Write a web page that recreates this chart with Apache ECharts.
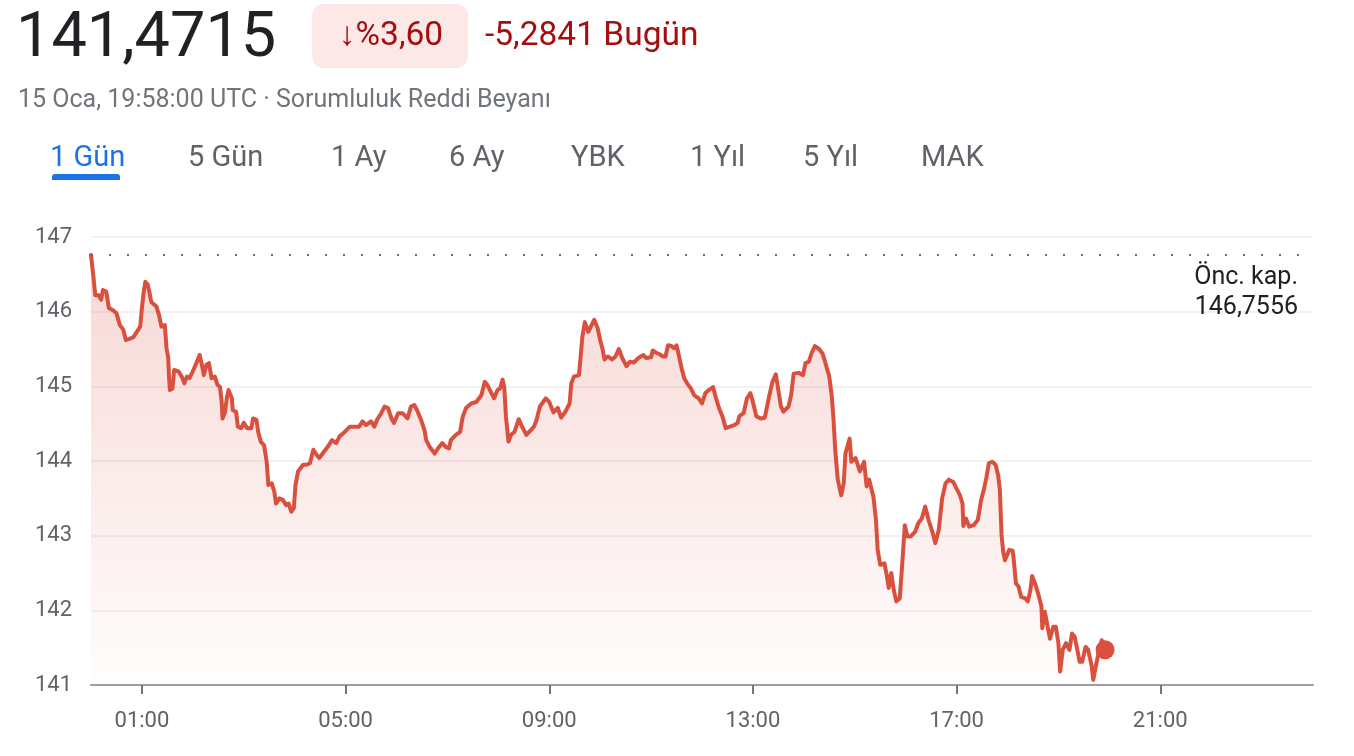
<!DOCTYPE html>
<html><head><meta charset="utf-8">
<script src="https://cdn.jsdelivr.net/npm/echarts@6/dist/echarts.min.js"></script>
<style>html,body{margin:0;padding:0;background:#fff}#c{width:1354px;height:756px}</style>
</head><body><div id="c"></div>
<script>
// minutes since 00:00 UTC
const times = [0,3,5,9,12,14,18,21,26,30,34,38,41,46,50,54,58,60,62,64,67,69,71,73,77,80,83,87,89,91,92,93,96,98,103,107,110,113,116,120,124,128,131,133,136,139,142,146,149,152,154,155,158,160,162,166,167,171,173,177,180,184,189,191,195,197,200,204,207,209,213,216,218,222,226,230,233,236,239,241,244,250,
254,258,262,266,269,275,279,284,289,293,299,305,311,316,320,324,330,334,337,342,346,350,354,357,362,367,373,377,381,385,389,393,395,399,405,409,414,418,422,424,430,435,438,442,448,454,460,464,467,471,475,479,482,485,487,489,492,495,499,504,508,513,518,522,525,529,536,540,545,550,554,559,564,566,569,575,577,579,582,586,589,593,597,600,603,605,609,614,618,622,626,631,635,640,645,651,654,660,662,666,670,674,677,680,684,687,690,693,696,699,703,707,711,716,720,724,728,733,736,740,744,748,753,758,762,764,769,773,777,780,784,789,794,799,803,807,810,813,816,822,825,828,834,839,842,846,849,853,858,862,865,867,870,873,875,877,880,884,887,889,894,896,901,906,911,914,917,922,925,927,930,935,938,940,943,946,949,953,956,959,962,966,971,975,979,983,987,992,995,999,1003,1007,1011,1016,1020,1024,1027,1028,1031,1035,1040,1045,1049,1052,1055,1058,1062,1066,1069,1071,1073,1075,1077,1082,1086,1087,1090,1093,1096,1101,1104,1107,1109,1113,1116,1120,1121,1124,1127,1130,1134,1137,1140,1142,1145,1149,1153,1156,1159,1162,1165,1168,1172,1175,1179,1181,1184,1188,1191,1193,1195];
const values = [146.76,146.45,146.22,146.22,146.16,146.29,146.27,146.05,146.02,145.98,145.82,145.76,145.62,145.64,145.66,145.73,145.80,146.05,146.25,146.40,146.36,146.25,146.13,146.11,146.07,145.96,145.80,145.82,145.51,145.38,145.11,144.95,144.97,145.22,145.20,145.13,145.04,145.13,145.11,145.20,145.31,145.42,145.27,145.15,145.29,145.31,145.11,145.13,145.02,144.99,144.79,144.57,144.66,144.84,144.95,144.84,144.68,144.66,144.46,144.44,144.51,144.44,144.44,144.57,144.55,144.39,144.26,144.21,143.99,143.68,143.70,143.59,143.43,143.50,143.48,143.41,143.43,143.32,143.37,143.68,143.86,143.95,
143.95,143.97,144.15,144.08,144.04,144.13,144.19,144.28,144.24,144.33,144.39,144.46,144.46,144.46,144.53,144.48,144.53,144.46,144.55,144.64,144.73,144.71,144.57,144.51,144.64,144.64,144.57,144.73,144.75,144.66,144.55,144.41,144.28,144.19,144.10,144.17,144.24,144.19,144.17,144.28,144.35,144.39,144.59,144.71,144.77,144.79,144.88,145.06,145.02,144.93,144.84,144.95,144.97,145.09,144.99,144.59,144.26,144.35,144.39,144.56,144.46,144.35,144.41,144.46,144.55,144.73,144.84,144.79,144.65,144.71,144.58,144.66,144.77,145.04,145.13,145.15,145.40,145.66,145.86,145.73,145.80,145.89,145.78,145.62,145.49,145.36,145.40,145.36,145.40,145.50,145.38,145.27,145.33,145.32,145.38,145.42,145.38,145.39,145.48,145.45,145.43,145.40,145.40,145.55,145.54,145.51,145.55,145.40,145.24,145.11,145.03,144.97,144.88,144.84,144.77,144.91,144.95,144.99,144.86,144.71,144.60,144.44,144.46,144.48,144.51,144.60,144.64,144.84,144.91,144.79,144.60,144.57,144.58,144.86,145.06,145.16,144.95,144.73,144.66,144.73,144.88,145.17,145.18,145.15,145.31,145.33,145.44,145.54,145.50,145.44,145.33,145.31,145.13,144.86,144.55,144.15,143.75,143.54,143.70,144.10,144.30,143.99,144.04,143.86,143.99,143.66,143.75,143.52,143.21,142.81,142.61,142.63,142.45,142.30,142.50,142.27,142.12,142.16,142.63,143.14,142.99,142.99,143.05,143.17,143.23,143.39,143.21,143.03,142.90,143.08,143.50,143.70,143.75,143.72,143.63,143.54,143.43,143.13,143.23,143.12,143.14,143.21,143.48,143.61,143.77,143.97,143.99,143.95,143.81,143.61,143.01,142.78,142.67,142.81,142.80,142.72,142.36,142.32,142.18,142.16,142.12,142.27,142.46,142.34,142.23,142.05,141.76,141.98,141.80,141.62,141.78,141.78,141.56,141.18,141.47,141.56,141.47,141.69,141.65,141.49,141.31,141.31,141.51,141.47,141.27,141.07,141.25,141.47,141.60,141.56,141.4715];
const prevClose = 146.7556;
const yTicks = [141, 142, 143, 144, 145, 146, 147];
const xTickMinutes = [60, 300, 540, 780, 1020, 1260];
const priceText = '141,4715';
const changePctText = '↓%3,60';
const changeText = '-5,2841 Bugün';
const subtitleText = '15 Oca, 19:58:00 UTC · Sorumluluk Reddi Beyanı';
const tabs = ['1 Gün', '5 Gün', '1 Ay', '6 Ay', 'YBK', '1 Yıl', '5 Yıl', 'MAK'];
const prevCloseLabel = 'Önc. kap.';
const prevCloseValueText = '146,7556';

const tabX = [50, 188, 331, 449, 571, 690, 803, 921];
const FONT = 'Roboto, "Noto Sans", sans-serif';
const RED = '#d9503f';
const pad2 = n => (n < 10 ? '0' : '') + n;
const fmtTime = m => pad2(Math.floor(m / 60)) + ':' + pad2(m % 60);

const lineData = times.map((t, i) => [t, values[i]]);
const last = lineData[lineData.length - 1];

const graphics = [
  { type: 'text', x: 16, y: 40, style: { text: priceText, font: '400 63px ' + FONT, fill: '#202124', verticalAlign: 'middle' } },
  { type: 'rect', shape: { x: 312, y: 4, width: 156, height: 64, r: 12 }, style: { fill: '#fce8e6' } },
  { type: 'text', x: 391, y: 37, style: { text: changePctText, font: '400 33.5px ' + FONT, fill: '#a50e0e', align: 'center', verticalAlign: 'middle' } },
  { type: 'text', x: 485, y: 37, style: { text: changeText, font: '400 33.5px ' + FONT, fill: '#a50e0e', align: 'left', verticalAlign: 'middle' } },
  { type: 'text', x: 18, y: 101, style: { text: subtitleText, font: '400 25px ' + FONT, fill: '#70757a', align: 'left', verticalAlign: 'middle' } },
  { type: 'rect', shape: { x: 52, y: 174, width: 68, height: 6, r: [3, 3, 0, 0] }, style: { fill: '#1a73e8' } }
];
tabs.forEach((t, i) => {
  graphics.push({ type: 'text', x: tabX[i], y: 159, style: { text: t, font: '400 29px ' + FONT, fill: i === 0 ? '#1a73e8' : '#5f6368', align: 'left', verticalAlign: 'middle' } });
});
graphics.push({ type: 'text', x: 1298, y: 278, style: { text: prevCloseLabel, font: '400 25px ' + FONT, fill: '#202124', align: 'right', verticalAlign: 'middle' } });
graphics.push({ type: 'text', x: 1298, y: 308, style: { text: prevCloseValueText, font: '400 25px ' + FONT, fill: '#202124', align: 'right', verticalAlign: 'middle' } });
graphics.forEach(g => { g.z = 100; });

const chart = echarts.init(document.getElementById('c'), null, { renderer: 'canvas' });
chart.setOption({
  animation: false,
  backgroundColor: '#ffffff',
  grid: { left: 91, right: 41, top: 237, bottom: 71, containLabel: false },
  xAxis: {
    type: 'value', min: 0, max: 1440,
    axisLine: { show: true, lineStyle: { color: '#9aa0a6', width: 2 } },
    axisTick: { show: true, customValues: xTickMinutes, length: 9, lineStyle: { color: '#70757a', width: 2 } },
    axisLabel: { customValues: xTickMinutes, formatter: v => fmtTime(v), margin: 25, fontSize: 22, fontFamily: FONT, color: '#5f6368' },
    splitLine: { show: false }
  },
  yAxis: {
    type: 'value', min: 141, max: 147, interval: 1,
    axisLine: { show: false }, axisTick: { show: false },
    axisLabel: { customValues: yTicks, margin: 19, fontSize: 22, fontFamily: FONT, color: '#5f6368' },
    splitLine: { show: true, lineStyle: { color: '#eceef0', width: 1.5 } }
  },
  graphic: graphics,
  series: [
    {
      type: 'line', data: lineData, showSymbol: false, symbol: 'none', z: 3,
      lineStyle: { color: RED, width: 4, join: 'round', cap: 'round' },
      areaStyle: {
        color: new echarts.graphic.LinearGradient(0, 0, 0, 1, [
          { offset: 0, color: 'rgba(224,100,88,0.36)' },
          { offset: 1, color: 'rgba(224,100,88,0.02)' }
        ])
      },
      markLine: {
        silent: true, symbol: ['none', 'none'], label: { show: false },
        lineStyle: { color: '#5f6368', type: [2, 16], width: 2, opacity: 0.9 },
        data: [{ yAxis: prevClose }]
      }
    },
    {
      type: 'scatter', data: [last], symbol: 'circle', symbolSize: 19, z: 5,
      itemStyle: { color: RED, opacity: 1 }
    }
  ]
});
</script></body></html>
